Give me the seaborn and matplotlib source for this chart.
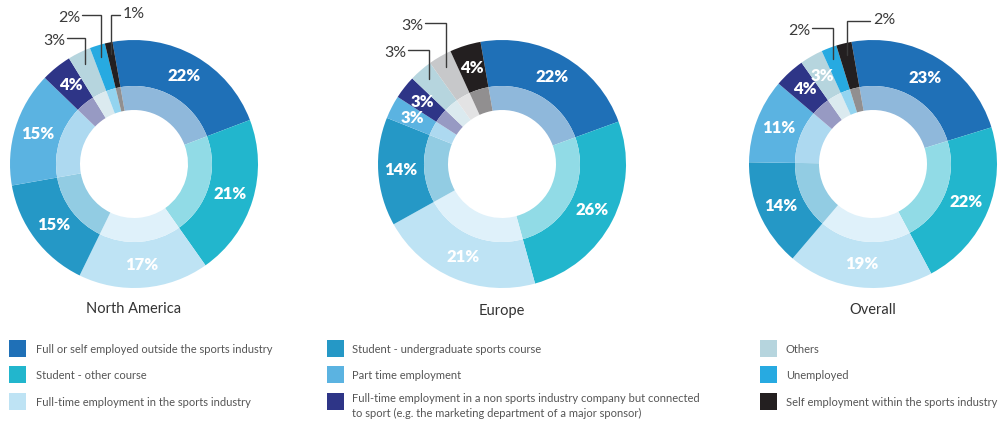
import matplotlib
matplotlib.use("Agg")
import matplotlib.pyplot as plt
from matplotlib.patches import Rectangle
from matplotlib.colors import to_rgb
import numpy as np
import seaborn as sns

# ---- data -------------------------------------------------------------
categories = [
    "Full or self employed outside the sports industry",
    "Student - other course",
    "Full-time employment in the sports industry",
    "Student - undergraduate sports course",
    "Part time employment",
    "Full-time employment in a non sports industry company but connected\nto sport (e.g. the marketing department of a major sponsor)",
    "Others",
    "Unemployed",
    "Self employment within the sports industry",
]
regions = ["North America", "Europe", "Overall"]
north_america = [22, 21, 17, 15, 15, 4, 3, 2, 1]
europe = [22, 26, 21, 14, 3, 3, 3, 3, 4]
overall = [23, 22, 19, 14, 11, 4, 3, 2, 2]

# slices whose value is written outside with a leader line
na_callouts = [6, 7, 8]
eu_callouts = [6, 7]
ov_callouts = [7, 8]

# ---- style ------------------------------------------------------------
sns.set_theme(style="white")
plt.rcParams["font.family"] = ["Lato", "DejaVu Sans"]

base_colors = ["#1F70B7", "#22B6CD", "#BEE3F4", "#2598C6", "#5BB3E1",
               "#2E3587", "#B6D5DE", "#27AAE1", "#231F20"]
europe_colors = list(base_colors)
europe_colors[7] = "#C7C8CA"


def lighten(c, f=0.5):
    r, g, b = to_rgb(c)
    return (r + (1 - r) * f, g + (1 - g) * f, b + (1 - b) * f)


W, H = 999, 423
fig = plt.figure(figsize=(W / 100, H / 100), dpi=100)
ax = fig.add_axes([0, 0, 1, 1])


def Y(y):
    return H - y


R_OUT, W_OUT = 124, 46
R_IN, W_IN = 78, 24
START = 100

# layout of each donut: centre, title y, callout placements
# callout entries: (line start x, line y, label side)
layouts = [
    dict(cx=134, cy=164, ty=309, colors=base_colors, values=north_america,
         callouts=na_callouts,
         lines=[(67, 38, "L"), (82, 15, "L"), (120, 15, "R")]),
    dict(cx=502, cy=164, ty=311, colors=europe_colors, values=europe,
         callouts=eu_callouts,
         lines=[(408, 50, "L"), (425, 23, "L")]),
    dict(cx=873, cy=164, ty=310, colors=base_colors, values=overall,
         callouts=ov_callouts,
         lines=[(812, 28, "L"), (870, 21, "R")]),
]

for name, lay in zip(regions, layouts):
    cx, cy = lay["cx"], Y(lay["cy"])
    vals = lay["values"]
    cols = lay["colors"]
    wedges, _ = ax.pie(vals, colors=cols, radius=R_OUT, center=(cx, cy),
                       startangle=START, counterclock=False,
                       wedgeprops=dict(width=W_OUT, edgecolor="none"))
    ax.pie(vals, colors=[lighten(c) for c in cols], radius=R_IN,
           center=(cx, cy), startangle=START, counterclock=False,
           wedgeprops=dict(width=W_IN, edgecolor="none"))

    ci = 0
    for i, (w, v) in enumerate(zip(wedges, vals)):
        mid = np.deg2rad((w.theta1 + w.theta2) / 2)
        if i in lay["callouts"]:
            lx, ly, side = lay["lines"][ci]
            ci += 1
            r_a = 112
            axp = cx + r_a * np.cos(mid)
            ayp = cy + r_a * np.sin(mid)
            ax.plot([lx, axp, axp], [Y(ly), Y(ly), ayp], color="#3a3a3a",
                    lw=1.0, solid_joinstyle="miter")
            if side == "L":
                ax.text(lx - 2, Y(ly + 3), f"{v}%", ha="right", va="center",
                        fontsize=11.5, color="#3a3a3a")
            else:
                ax.text(lx + 3, Y(ly - 1), f"{v}%", ha="left", va="center",
                        fontsize=11.5, color="#3a3a3a")
        else:
            r_l = 101
            ax.text(cx + r_l * np.cos(mid), cy + r_l * np.sin(mid), f"{v}%",
                    ha="center", va="center", fontsize=12, fontweight="heavy",
                    color="white")

    ax.text(cx, Y(lay["ty"]), name, ha="center", va="center", fontsize=10.5,
            color="#333333")

# ---- legend -----------------------------------------------------------
legend_cols = [(9, 36, [0, 1, 2]), (327, 352, [3, 4, 5]), (760, 786, [6, 7, 8])]
row_tops = [340, 366, 393]
for sx, tx, idxs in legend_cols:
    for top, i in zip(row_tops, idxs):
        ax.add_patch(Rectangle((sx, Y(top + 17)), 17, 17,
                               facecolor=base_colors[i], edgecolor="none"))
        label = categories[i]
        ty = top + 9 if "\n" not in label else top + 13
        ax.text(tx, Y(ty), label, ha="left", va="center", fontsize=8,
                color="#555555", linespacing=1.35)

ax.set_xlim(0, W)
ax.set_ylim(0, H)
ax.set_aspect("auto")
ax.axis("off")

fig.savefig("out.png", dpi=100, facecolor="white")
